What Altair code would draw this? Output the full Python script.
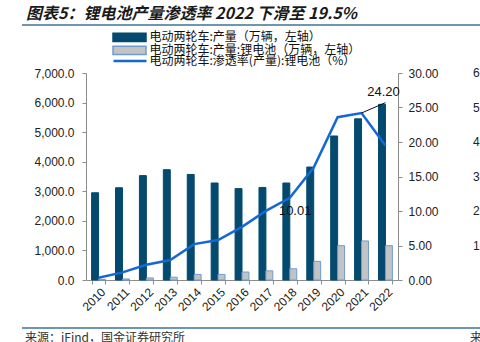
import altair as alt
import pandas as pd

years = [str(y) for y in range(2010, 2023)]
production = [2950, 3120, 3530, 3730, 3570, 3280, 3090, 3130, 3280, 3820, 4870, 5450, 5940]
lithium = [20, 35, 70, 95, 190, 190, 270, 310, 380, 630, 1160, 1320, 1160]
penetration = [0.33, 1.1, 2.2, 2.9, 5.2, 5.8, 7.7, 10.01, 11.9, 16.3, 23.6, 24.2, 19.5]
left_ticks = [0, 1000, 2000, 3000, 4000, 5000, 6000, 7000]
right_ticks = [0, 5, 10, 15, 20, 25, 30]
edge_tick_values = [30, 25, 20, 15, 10, 5]
edge_tick_labels = ["60", "50", "40", "30", "20", "10"]

S1 = "电动两轮车:产量（万辆，左轴）"
S2 = "电动两轮车:产量:锂电池（万辆，左轴）"
S3 = "电动两轮车:渗透率(产量):锂电池（%）"
TITLE = "图表5：锂电池产量渗透率 2022 下滑至 19.5%"
SOURCE = "来源：iFind，国金证券研究所"

DARK = "#034A6E"
GRAY = "#C3C3C3"
GRAY_EDGE = "#6F9BD2"
BLUE = "#1468D6"
RULE_BLUE = "#3F7396"
CJK = "Noto Sans CJK SC"
LAT = "Liberation Sans"

bars_df = pd.DataFrame({
    "year": years * 2,
    "series": [S1] * len(years) + [S2] * len(years),
    "value": production + lithium,
})
line_df = pd.DataFrame({"year": years, "series": [S3] * len(years), "pct": penetration})
year_df = pd.DataFrame({"year": years})

x_scale = alt.Scale(domain=years, paddingInner=0.42, paddingOuter=0.235)
x_axis = alt.Axis(title=None, labels=False, tickBand="extent", domainColor="#8c8c8c",
                  tickColor="#8c8c8c", tickSize=4)

bar_legend = alt.Legend(orient="none", legendX=26, legendY=-41.4, title=None,
                        symbolType="M-1,-0.25H1V0.25H-1Z", symbolSize=1089, clipHeight=11.75,
                        symbolStrokeWidth=1.5, labelFont=CJK, labelFontSize=12, labelLimit=400,
                        labelColor="#111", rowPadding=0, labelOffset=2.5, padding=0)

bars = alt.Chart(bars_df).mark_bar(strokeWidth=1).encode(
    x=alt.X("year:N", scale=x_scale, axis=x_axis),
    xOffset=alt.XOffset("series:N", sort=[S1, S2], scale=alt.Scale(domain=[S1, S2], paddingInner=0, paddingOuter=0)),
    y=alt.Y("value:Q", scale=alt.Scale(domain=[0, 7000], nice=False),
            axis=alt.Axis(title=None, values=left_ticks, format=",.1f", grid=False,
                          labelFont=LAT, labelFontSize=12, labelColor="#222",
                          domainColor="#8c8c8c", tickColor="#8c8c8c", tickSize=4, labelPadding=8)),
    fill=alt.Fill("series:N", scale=alt.Scale(domain=[S1, S2], range=[DARK, GRAY]), legend=bar_legend),
    stroke=alt.Stroke("series:N", scale=alt.Scale(domain=[S1, S2], range=[DARK, GRAY_EDGE]), legend=bar_legend),
)

year_labels = alt.Chart(year_df).mark_text(angle=315, align="right", baseline="top", dx=2,
                                           font=LAT, fontSize=12, color="#222").encode(
    x=alt.X("year:N", scale=x_scale, axis=x_axis), y=alt.value(215), text="year:N")

right_scale = alt.Scale(domain=[0, 30], nice=False)
right_axis = alt.Axis(title=None, orient="right", values=right_ticks, format=".2f", grid=False,
                      labelFont=LAT, labelFontSize=12, labelColor="#222",
                      domainColor="#8c8c8c", tickColor="#8c8c8c", tickSize=4, labelPadding=6)

line = alt.Chart(line_df).mark_line(strokeWidth=2.5).encode(
    x=alt.X("year:N", scale=x_scale, axis=x_axis),
    y=alt.Y("pct:Q", scale=right_scale, axis=right_axis),
    color=alt.Color("series:N", scale=alt.Scale(domain=[S3], range=[BLUE]),
                    legend=alt.Legend(orient="none", legendX=26, legendY=-17.9, title=None,
                                      symbolType="stroke", symbolSize=1089, symbolStrokeWidth=2.5,
                                      clipHeight=11.75, labelLimit=400,
                                      labelFont=CJK, labelFontSize=12, labelColor="#111",
                                      labelOffset=1.5, padding=0)),
)

lab1_df = pd.DataFrame({"year": ["2017"], "pct": [penetration[7]], "txt": ["10.01"]})
lab1 = alt.Chart(lab1_df).mark_text(align="left", baseline="middle", dx=13, font=LAT,
                                    fontSize=13, color="#111").encode(
    x=alt.X("year:N", scale=x_scale, axis=x_axis),
    y=alt.Y("pct:Q", scale=right_scale, axis=right_axis), text="txt:N")

lab2_df = pd.DataFrame({"year": ["2021"], "pct": [penetration[11]], "txt": ["24.20"]})
lab2 = alt.Chart(lab2_df).mark_text(align="center", baseline="middle", dx=22, dy=-21, font=LAT,
                                    fontSize=13, color="#111").encode(
    x=alt.X("year:N", scale=x_scale, axis=x_axis),
    y=alt.Y("pct:Q", scale=right_scale, axis=right_axis), text="txt:N")

lead_df = pd.DataFrame({"year": ["2021"], "year2": ["2022"], "pct": [24.2], "pct2": [25.7]})
lead = alt.Chart(lead_df).mark_rule(color="#111", strokeWidth=1).encode(
    x=alt.X("year:N", bandPosition=0.5, scale=x_scale, axis=x_axis),
    x2=alt.X2("year2", bandPosition=0.5),
    y=alt.Y("pct:Q", scale=right_scale, axis=right_axis), y2="pct2:Q")

edge_df = pd.DataFrame({"v": edge_tick_values, "t": edge_tick_labels})
edge = alt.Chart(edge_df).mark_text(align="left", baseline="middle", font=LAT, fontSize=12,
                                     color="#222").encode(
    x=alt.value(387), y=alt.Y("v:Q", scale=right_scale, axis=right_axis), text="t:N")

right_layer = alt.layer(line, lab1, lab2, lead, edge)

one = pd.DataFrame({"a": [0]})
title = alt.Chart(one).mark_text(align="left", baseline="middle", font=CJK, fontSize=16,
                                 fontStyle="italic", fontWeight="bold", color="#1a1a1a").encode(
    x=alt.value(-60), y=alt.value(-59), text=alt.value(TITLE))
top_rule = alt.Chart(one).mark_rule(color=RULE_BLUE, strokeWidth=1.5).encode(
    x=alt.value(-64), x2=alt.value(394), y=alt.value(-48))
bottom_rule = alt.Chart(one).mark_rule(color=RULE_BLUE, strokeWidth=1.5).encode(
    x=alt.value(-64), x2=alt.value(394), y=alt.value(255))
source = alt.Chart(one).mark_text(align="left", baseline="top", font=CJK, fontSize=12,
                                  color="#333").encode(
    x=alt.value(-61), y=alt.value(260), text=alt.value(SOURCE))
source2 = alt.Chart(one).mark_text(align="left", baseline="top", font=CJK, fontSize=12,
                                   color="#333").encode(
    x=alt.value(384), y=alt.value(260), text=alt.value("来源"))

chart = alt.layer(bars, year_labels, right_layer, title, top_rule, bottom_rule, source, source2).resolve_scale(
    y="independent"
).properties(
    width=312, height=207,
    padding={"left": 86, "top": 73, "right": 82, "bottom": 62},
    autosize=alt.AutoSizeParams(type="none"),
    background="white",
).configure_view(stroke=None)

chart.save("out.html", embed_options={"renderer": "svg", "actions": False})
